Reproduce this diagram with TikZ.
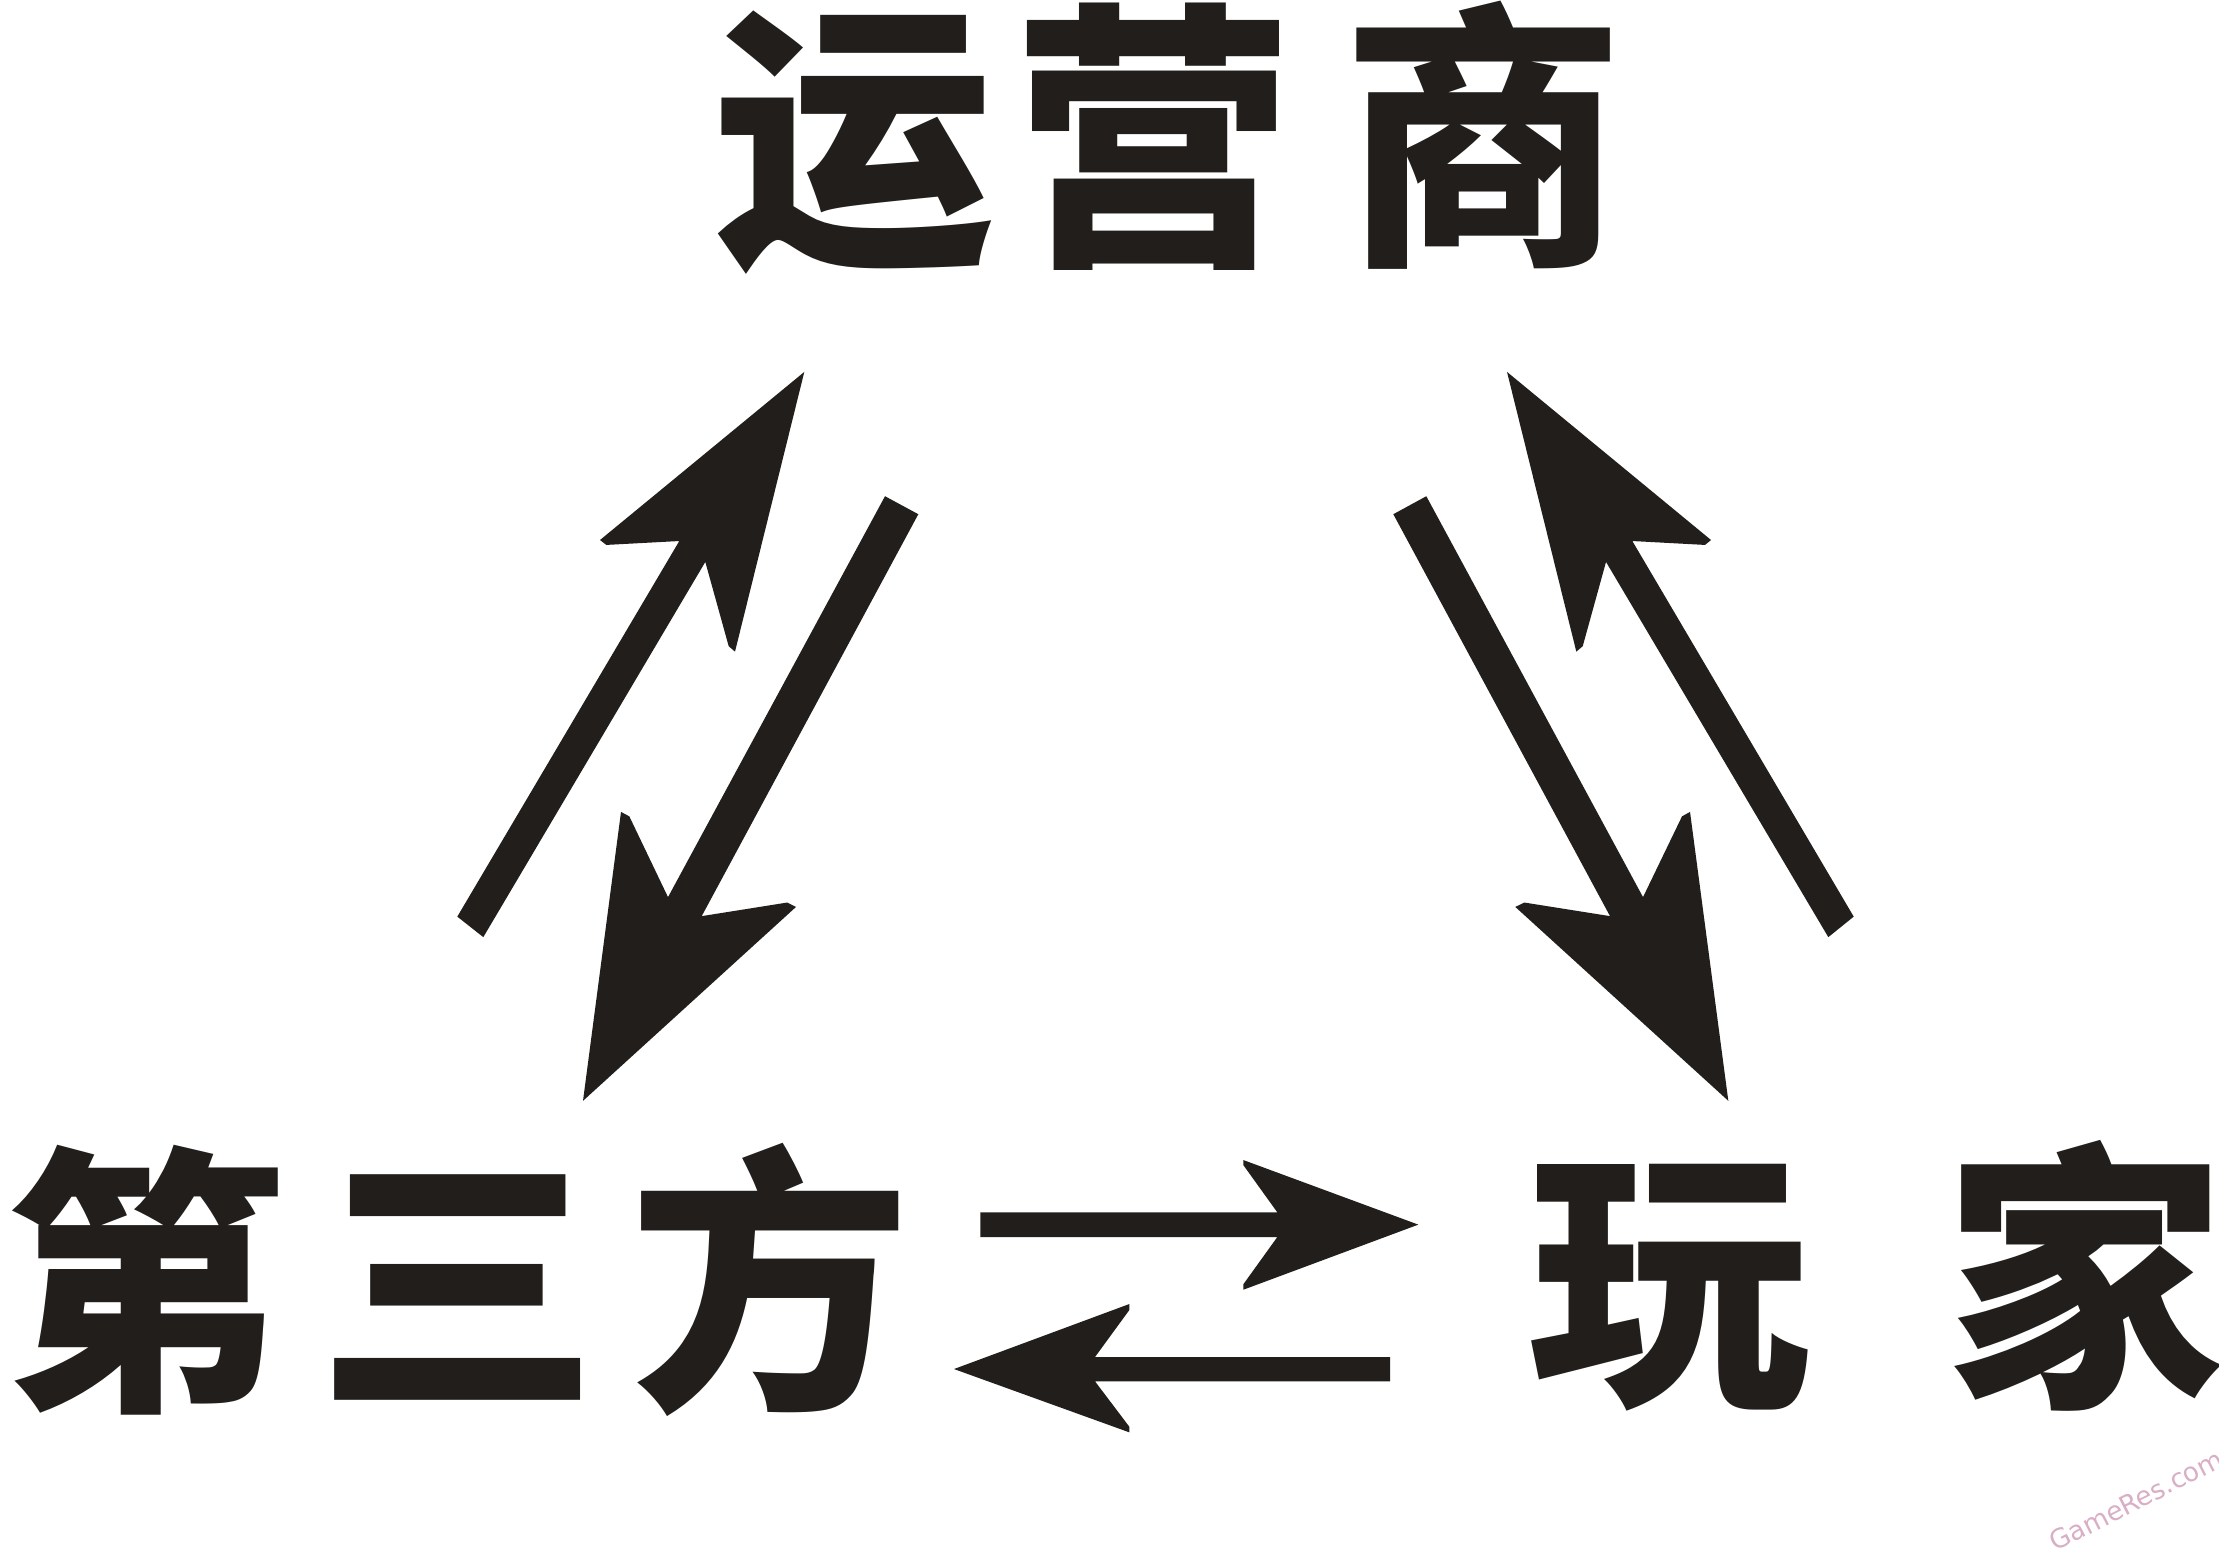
\documentclass[tikz,border=0pt]{standalone}
\usepackage{fontspec}
\newfontfamily\cjk{Noto Sans CJK SC}
\newfontfamily\wmfont{DejaVu Sans}
\definecolor{ink}{HTML}{221E1B}
\definecolor{wm}{HTML}{D9AFC6}
\begin{document}
\begin{tikzpicture}[x=0.01cm,y=-0.01cm,
  label/.style={inner sep=0pt,text=ink,font=\cjk\bfseries\fontsize{80}{80}\selectfont},
  arrowshape/.style={fill=ink,draw=none}]
\useasboundingbox (0,0) rectangle (2219,1556);
\fill[white] (0,0) rectangle (2219,1556);
% labels
\node[label] (op) at (1169,138) {运\hspace{0.17cm}营\hspace{0.49cm}商};
\node[label] (tp) at (458,1280) {第\hspace{0.31cm}三\hspace{0.31cm}方};
\node[label] (pl) at (1877,1276) {玩\hspace{1.35cm}家};
% arrow 1: tp -> op
\fill[arrowshape] (457.3,916.6) -- (679.3,541) -- (606.3,544.9) -- (600,540) -- (804.3,371.9) -- (735,651.6) -- (728.7,646.2) -- (705.3,561.9) -- (483.3,937.1) -- cycle;
% arrow 2: op -> tp
\fill[arrowshape] (885,496.2) -- (668,897.1) -- (629.3,816.3) -- (621,811.9) -- (583,1100.8) -- (796,906.9) -- (787.3,902.5) -- (701.7,916.1) -- (918.3,514.2) -- cycle;
% arrow 3: pl -> op
\fill[arrowshape] (1853.7,916.6) -- (1632.3,541) -- (1705,544.9) -- (1711,540) -- (1507,371.9) -- (1576.3,651.6) -- (1582.7,646.2) -- (1606,561.9) -- (1828.3,937.1) -- cycle;
% arrow 4: op -> pl
\fill[arrowshape] (1426.3,496.2) -- (1643,897.1) -- (1682,816.3) -- (1690,811.9) -- (1728.3,1100.8) -- (1515.3,906.9) -- (1524.3,902.5) -- (1610,916.1) -- (1393.3,514.2) -- cycle;
% arrow 5: tp -> pl
\fill[arrowshape] (980.3,1212.3) -- (1277.3,1212.3) -- (1243.3,1165) -- (1243.3,1160) -- (1418.3,1224.6) -- (1243.3,1289.7) -- (1243.3,1284.3) -- (1277.3,1237) -- (980.3,1237) -- cycle;
% arrow 6: pl -> tp
\fill[arrowshape] (1390,1357) -- (1095,1357) -- (1129.3,1310) -- (1129.3,1304) -- (954,1369) -- (1129.3,1432.3) -- (1129.3,1426.7) -- (1095,1381.3) -- (1390,1381.3) -- cycle;
% watermark
\node[text=wm,font=\wmfont\fontsize{7.5}{7.5}\selectfont,rotate=27,inner sep=0pt] (wmk) at (2136,1500) {GameRes.com};
\end{tikzpicture}
\end{document}
